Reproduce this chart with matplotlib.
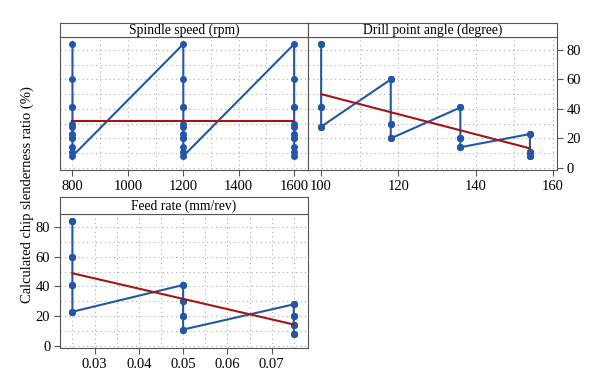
import numpy as np
import matplotlib.pyplot as plt
from matplotlib.ticker import MultipleLocator

# Datos: relacion de esbeltez de viruta por combinacion angulo x avance
angulos = [100, 118, 136, 154]
avances = [0.025, 0.05, 0.075]
ratio = [[84, 41, 28],   # 100 grados
         [60, 30, 20],   # 118
         [41, 20, 14],   # 136
         [23, 11, 8]]    # 154
velocidades = [800, 1200, 1600]

azul = '#2357a6'
rojo = '#a31515'
borde = '#555555'

plt.rcParams['font.family'] = ['Liberation Serif', 'DejaVu Serif']

# armo la tabla larga (cada velocidad repite las 12 combinaciones)
filas = []
for v in velocidades:
    for i, a in enumerate(angulos):
        for j, f in enumerate(avances):
            filas.append((v, a, f, ratio[i][j]))
filas = np.array(filas)

W, H = 600, 388
fig = plt.figure(figsize=(6, 3.88), dpi=100)


def caja(x0, x1, y0, y1):
    return [x0 / W, 1 - y1 / H, (x1 - x0) / W, (y1 - y0) / H]


def panel(x0, x1, y_strip, y0, y1, col, titulo, xlim, xmaj, xmin, lado):
    ax = fig.add_axes(caja(x0, x1, y0, y1))
    st = fig.add_axes(caja(x0, x1, y_strip, y0))
    st.set_xticks([])
    st.set_yticks([])
    st.text(0.5, 0.45, titulo, ha='center', va='center', fontsize=9.8,
            transform=st.transAxes)
    for s in st.spines.values():
        s.set_color(borde)

    x = filas[:, col]
    y = filas[:, 3]
    # orden: por nivel, y dentro de cada nivel de mayor a menor
    orden = np.lexsort((-y, x))
    ax.plot(x[orden], y[orden], '-o', color=azul, lw=1.5, ms=4, zorder=3)

    # recta de regresion
    m, b = np.polyfit(x, y, 1)
    xs = np.array([x.min(), x.max()])
    ax.plot(xs, m * xs + b, color=rojo, lw=1.5, zorder=4)

    ax.set_xlim(*xlim)
    ax.set_ylim(-1.4, 88.8)
    ax.xaxis.set_major_locator(MultipleLocator(xmaj))
    ax.xaxis.set_minor_locator(MultipleLocator(xmin))
    ax.yaxis.set_major_locator(MultipleLocator(20))
    ax.yaxis.set_minor_locator(MultipleLocator(10))
    ax.grid(which='both', color='#aaaaaa', lw=0.8, linestyle=(0, (1, 3)))
    ax.set_axisbelow(True)
    ax.tick_params(which='major', direction='out', length=4, color=borde,
                   labelsize=10.5, pad=3)
    ax.tick_params(which='minor', length=0)
    ax.tick_params(axis='y', left=(lado == 'left'), labelleft=(lado == 'left'),
                   right=(lado == 'right'), labelright=(lado == 'right'))
    for s in ax.spines.values():
        s.set_color(borde)
    return ax


panel(60, 308, 23, 37, 170, 0, 'Spindle speed (rpm)', (755, 1650), 200, 100, None)
panel(308, 557, 23, 37, 170, 1, 'Drill point angle (degree)', (96.6, 161), 20, 10, 'right')
ax3 = panel(60, 308, 197, 214, 348, 2, 'Feed rate (mm/rev)', (0.0222, 0.0782), 0.01, 0.005, 'left')
ax3.xaxis.set_major_formatter(plt.FuncFormatter(lambda v, p: f'{v:.2f}'))

fig.text(27 / W, 1 - 195 / H, 'Calculated chip slenderness ratio (%)',
         rotation=90, ha='center', va='center', fontsize=10.5)

fig.savefig('out.png', dpi=100)
